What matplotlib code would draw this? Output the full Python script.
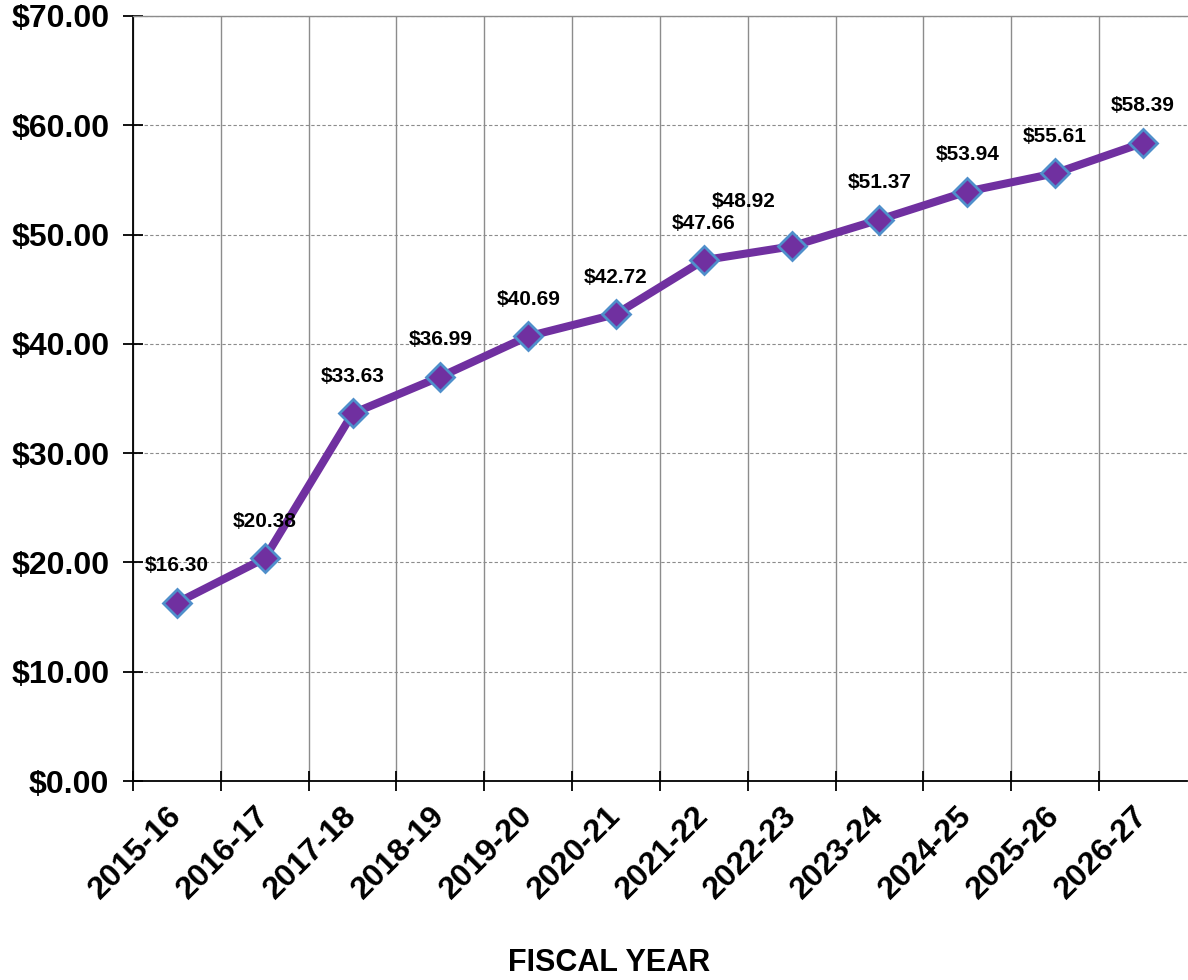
import matplotlib
matplotlib.use("Agg")
import matplotlib.pyplot as plt
import numpy as np

plt.rcParams['font.family'] = ['Liberation Sans', 'DejaVu Sans']

# Fiscal years and per-unit cost values
years = ["2015-16", "2016-17", "2017-18", "2018-19", "2019-20", "2020-21",
         "2021-22", "2022-23", "2023-24", "2024-25", "2025-26", "2026-27"]
values = [16.30, 20.38, 33.63, 36.99, 40.69, 42.72,
          47.66, 48.92, 51.37, 53.94, 55.61, 58.39]
y_ticks = [0, 10, 20, 30, 40, 50, 60, 70]

LINE = "#7030A0"
EDGE = "#4F8FCB"

fig = plt.figure(figsize=(11.88, 9.80), dpi=100)
ax = fig.add_axes([133 / 1188, 1 - 781 / 980, 1 - 133 / 1188 - 0.001, (781 - 16) / 980])

x = np.arange(len(years))
ax.plot(x, values, color=LINE, lw=5.8, marker="D", ms=14,
        mfc=LINE, mec=EDGE, mew=2, zorder=5, clip_on=False)

# value labels, one nudged aside to avoid its neighbour
for i, v in enumerate(values):
    dx, dy = (0, 37)
    if years[i] == "2022-23":
        dx, dy = (-48, 45)
    ax.annotate(f"${v:.2f}", (i, v), xytext=(dx, dy), textcoords="offset pixels",
                ha="center", va="center", fontsize=15, fontweight="bold",
                color="black", zorder=6)

ax.set_xlim(-0.5, len(years) - 0.5)
ax.set_ylim(0, 70)

# category boundaries carry ticks and vertical grid; labels sit at centres
ax.set_xticks(np.arange(-0.5, len(years) - 1, 1.0))
ax.set_xticklabels([])
ax.set_xticks(x, minor=True)
ax.set_xticklabels(years, minor=True, rotation=45, ha="right", va="center",
                   rotation_mode="anchor", fontsize=23, fontweight="bold")
ax.tick_params(axis="x", which="minor", length=0, pad=22)
ax.tick_params(axis="x", which="major", direction="inout", length=15, width=1.3)

ax.set_yticks(y_ticks)
ax.set_yticklabels([f"${t:.2f}" for t in y_ticks], fontsize=23, fontweight="bold")
ax.tick_params(axis="y", direction="inout", length=14, width=1.3, pad=10)

ax.grid(axis="x", which="major", color="#8c8c8c", lw=1.0, ls="-")
ax.grid(axis="y", which="major", color="#8c8c8c", lw=0.8, ls=(0, (3, 2)))
ax.set_axisbelow(True)

for s in ("left", "bottom"):
    ax.spines[s].set_color("black")
    ax.spines[s].set_linewidth(1.3)
ax.spines["top"].set_color("#8c8c8c")
ax.spines["top"].set_linewidth(1.0)
ax.spines["right"].set_visible(False)

fig.text(609 / 1188, 1 - 963 / 980, "FISCAL YEAR", ha="center", va="center",
         fontsize=22, fontweight="bold")

fig.savefig("out.png", dpi=100, facecolor="white")
